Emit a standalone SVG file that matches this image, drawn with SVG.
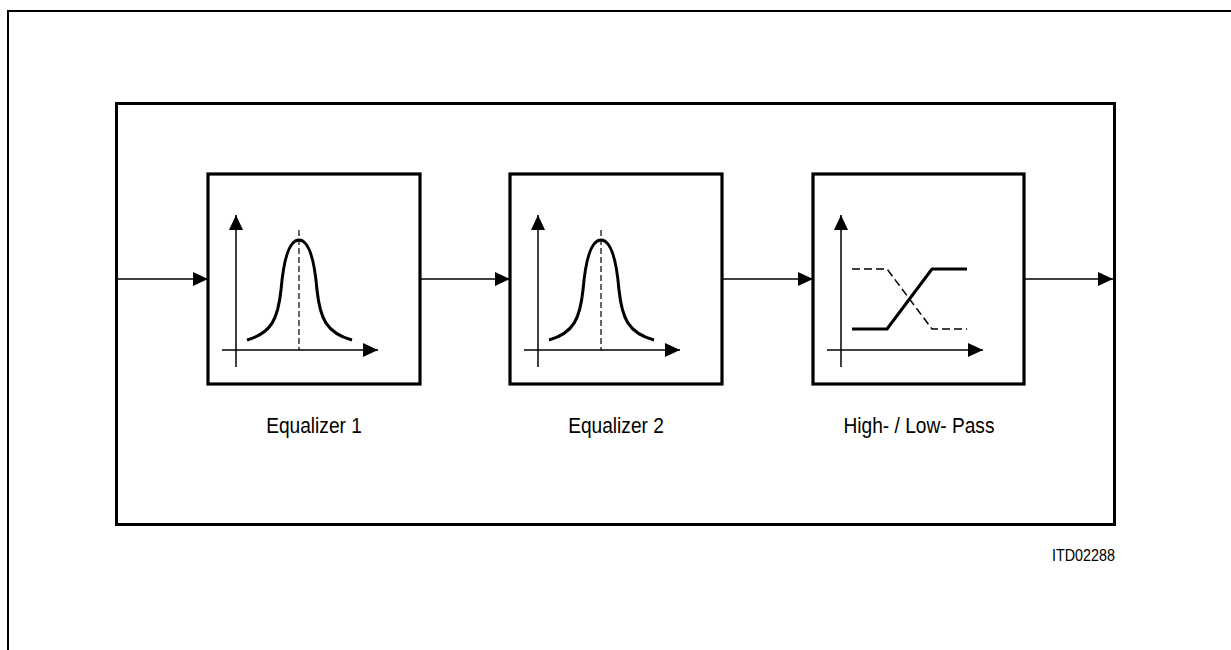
<svg xmlns="http://www.w3.org/2000/svg" width="1231" height="650" viewBox="0 0 1231 650">
<style>
.frame{fill:none;stroke:#000;stroke-width:3}
.page{fill:none;stroke:#000;stroke-width:2}
.block{fill:#fff;stroke:#000;stroke-width:3.2}
.axis{fill:none;stroke:#000;stroke-width:1.5}
.curve{fill:none;stroke:#000;stroke-width:3;stroke-linejoin:round;stroke-linecap:butt}
.dash{fill:none;stroke:#000;stroke-width:1.2;stroke-dasharray:6 3}
.dash2{fill:none;stroke:#000;stroke-width:1.5;stroke-dasharray:8 4}
.conn{fill:none;stroke:#000;stroke-width:1.5}
.lbl{font-family:"Liberation Sans",Arial,sans-serif;font-size:22px;fill:#000;text-anchor:middle}
.code{font-family:"Liberation Sans",Arial,sans-serif;font-size:17px;fill:#000;text-anchor:end}
</style>
<defs>
<marker id="arr" viewBox="0 0 15 14" refX="15" refY="7" markerWidth="15" markerHeight="14" markerUnits="userSpaceOnUse" orient="auto">
<path d="M0,0 L15,7 L0,14 z" fill="#000"/>
</marker>
<g id="axes">
<line class="axis" x1="28" y1="193" x2="28" y2="41" marker-end="url(#arr)"/>
<line class="axis" x1="14" y1="176" x2="170" y2="176" marker-end="url(#arr)"/>
</g>
<g id="bell">
<line class="dash" x1="91" y1="56" x2="91" y2="176"/>
<path class="curve" d="M39,166 C64,159 70,144 73,116 C76,81 82,66 91,66 C100,66 106,81 109,116 C112,144 118,159 144,166"/>
</g>
</defs>
<g id="page">
<polyline class="page" points="8,650 8,11 1231,11"/>
</g>
<g id="container">
<rect class="frame" x="116.5" y="103.5" width="998" height="421"/>
</g>
<g id="connectors">
<line class="conn" x1="117" y1="279" x2="208" y2="279" marker-end="url(#arr)"/>
<line class="conn" x1="419" y1="279" x2="510" y2="279" marker-end="url(#arr)"/>
<line class="conn" x1="721" y1="279" x2="813" y2="279" marker-end="url(#arr)"/>
<line class="conn" x1="1023" y1="279" x2="1113" y2="279" marker-end="url(#arr)"/>
</g>
<g id="eq1">
<g transform="translate(208,174)">
<rect class="block" x="0" y="0" width="212" height="210"/>
<use href="#axes"/>
<use href="#bell"/>
</g>
<text class="lbl" transform="translate(314,433) scale(0.87,1)">Equalizer 1</text>
</g>
<g id="eq2">
<g transform="translate(510,174)">
<rect class="block" x="0" y="0" width="212" height="210"/>
<use href="#axes"/>
<use href="#bell"/>
</g>
<text class="lbl" transform="translate(616,433) scale(0.87,1)">Equalizer 2</text>
</g>
<g id="hplp">
<g transform="translate(813,174)">
<rect class="block" x="0" y="0" width="211" height="210"/>
<use href="#axes"/>
<polyline class="dash2" points="39,95 74,95 119,155 154,155"/>
<polyline class="curve" points="39,155 74,155 119,95 154,95"/>
</g>
<text class="lbl" transform="translate(919,433) scale(0.87,1)">High- / Low- Pass</text>
</g>
<text class="code" transform="translate(1115,561) scale(0.845,1)">ITD02288</text>
</svg>
